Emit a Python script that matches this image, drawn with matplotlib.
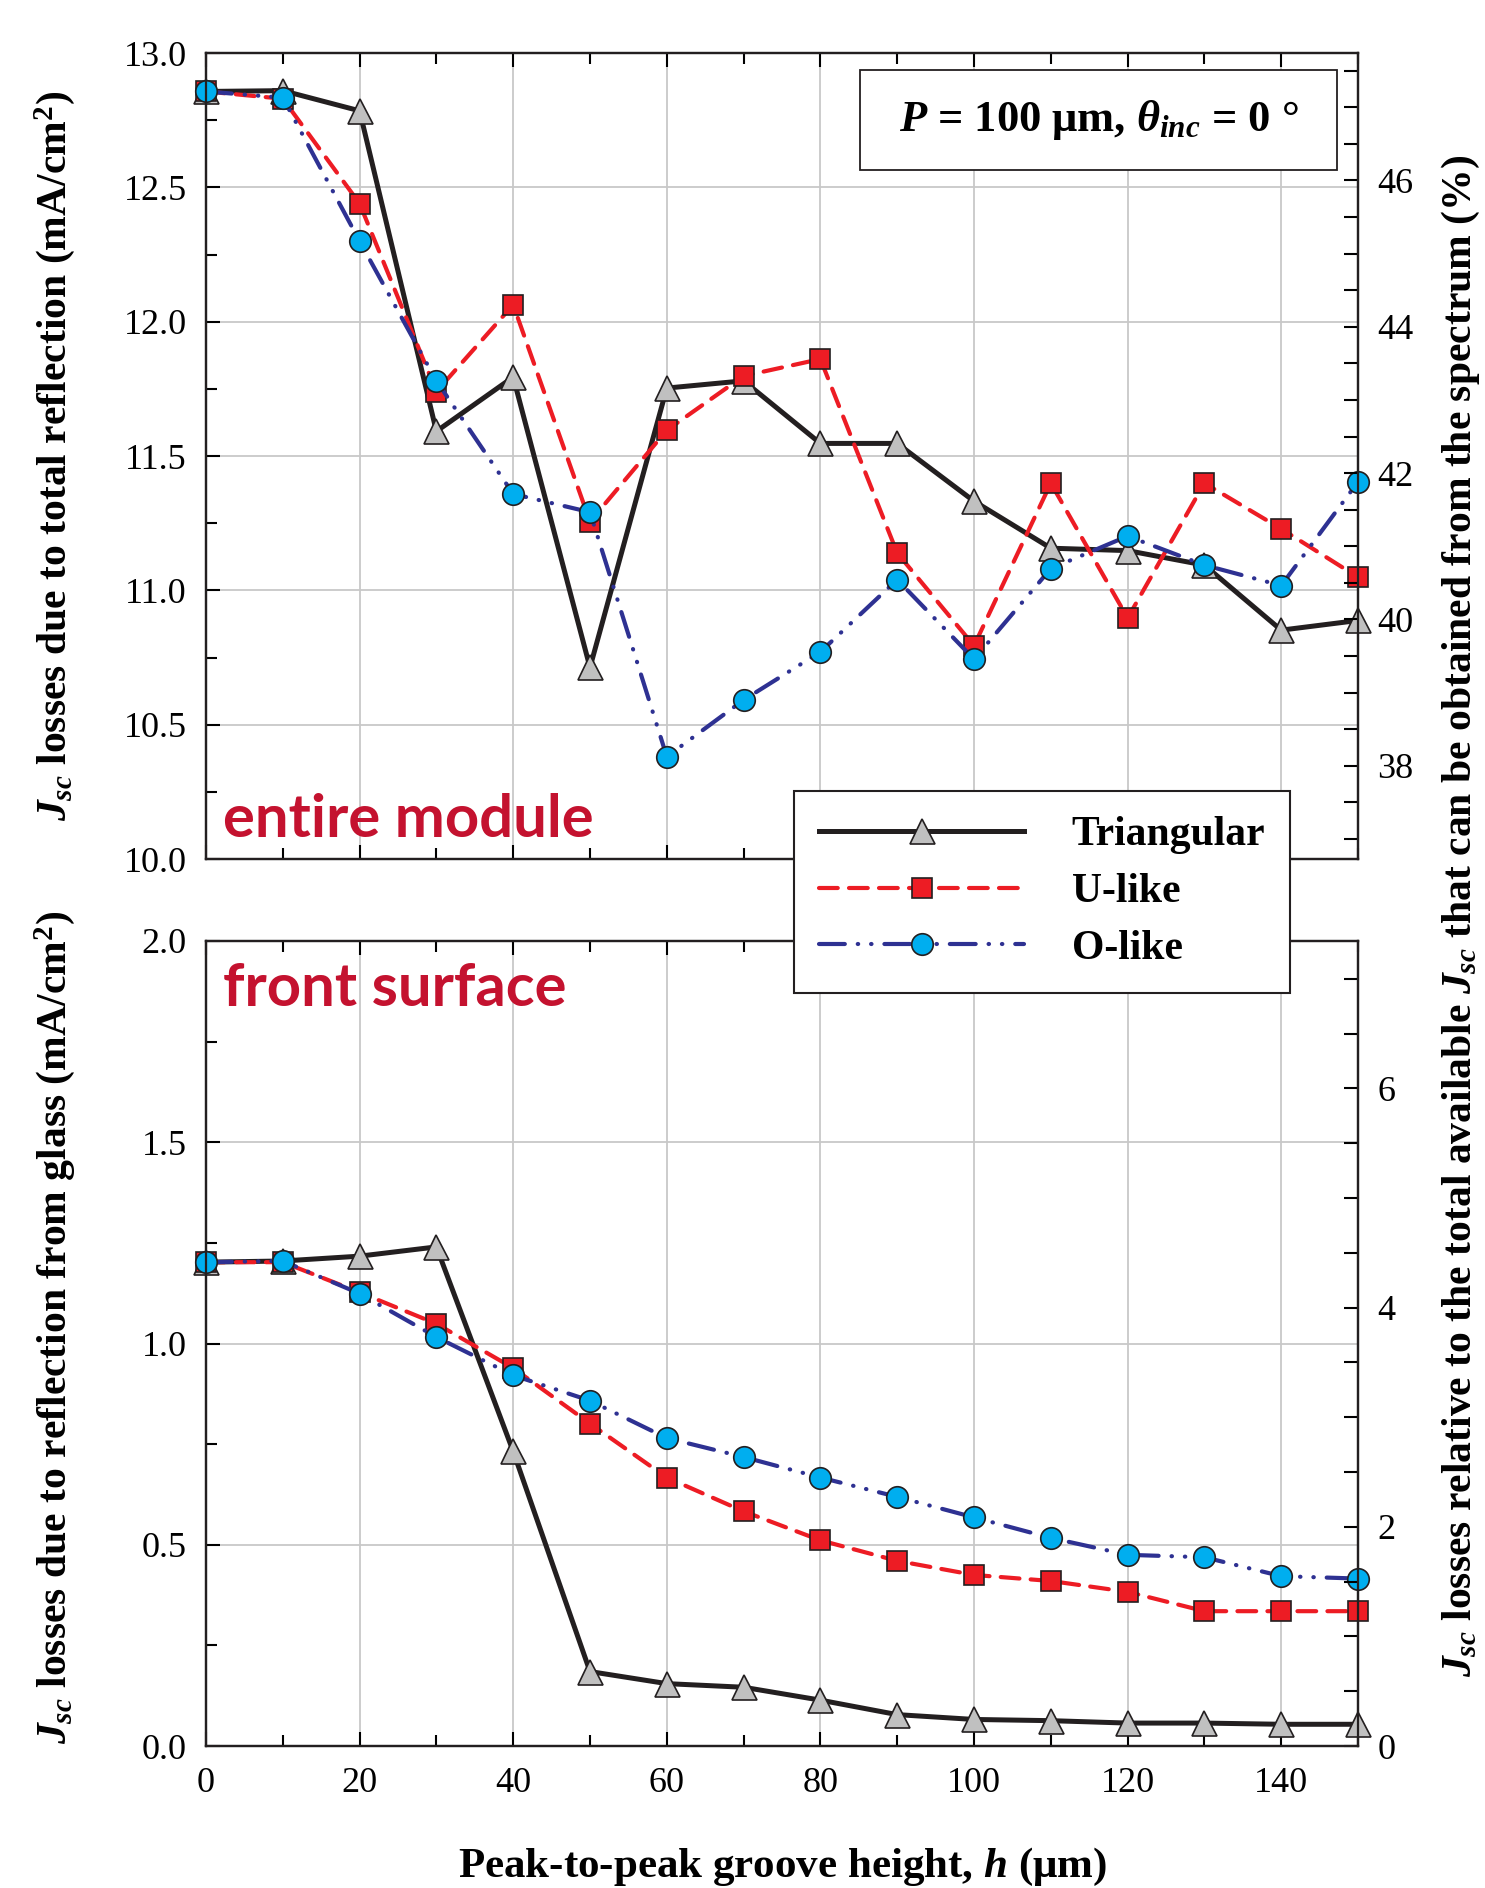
import matplotlib
matplotlib.use("Agg")
import matplotlib.pyplot as plt
from matplotlib.lines import Line2D
from matplotlib.patches import Rectangle
from matplotlib.ticker import MultipleLocator

plt.rcParams['font.family'] = ['Liberation Serif', 'DejaVu Serif']
plt.rcParams['mathtext.fontset'] = 'custom'
plt.rcParams['mathtext.rm'] = 'Liberation Serif:bold'
plt.rcParams['mathtext.it'] = 'Liberation Serif:italic:bold'
plt.rcParams['mathtext.bf'] = 'Liberation Serif:bold'

# groove height h (um)
h_um = [0, 10, 20, 30, 40, 50, 60, 70, 80, 90, 100, 110, 120, 130, 140, 150]

# Jsc losses, entire module (mA/cm2)
module_tri = [12.857, 12.86, 12.785, 11.592, 11.794, 10.713, 11.753, 11.78,
              11.547, 11.547, 11.332, 11.157, 11.148, 11.094, 10.852, 10.888]
module_u = [12.857, 12.83, 12.44, 11.74, 12.063, 11.256, 11.596, 11.798,
            11.861, 11.139, 10.794, 11.399, 10.897, 11.399, 11.229, 11.049]
module_o = [12.857, 12.834, 12.30, 11.78, 11.359, 11.291, 10.381, 10.592,
            10.771, 11.04, 10.744, 11.081, 11.202, 11.094, 11.018, 11.404]

# Jsc losses, front surface (mA/cm2)
front_tri = [1.202, 1.205, 1.217, 1.24, 0.732, 0.185, 0.155, 0.146,
             0.114, 0.078, 0.066, 0.063, 0.057, 0.057, 0.054, 0.054]
front_u = [1.202, 1.202, 1.127, 1.049, 0.939, 0.801, 0.667, 0.583,
           0.511, 0.460, 0.425, 0.410, 0.383, 0.335, 0.335, 0.335]
front_o = [1.202, 1.205, 1.124, 1.016, 0.921, 0.858, 0.765, 0.718,
           0.667, 0.619, 0.568, 0.517, 0.475, 0.469, 0.422, 0.416]

names = ['Triangular', 'U-like', 'O-like']
jsc_total = 27.23  # total available Jsc (mA/cm2), for the % axis

black = '#231F20'
red = '#ED1C24'
navy = '#2E3192'
cyan = '#00AEEF'
grey = '#C0C0C0'
crimson = '#C4122F'

styles = [
    dict(color=black, ls='-', lw=3.6, marker='^', ms=18, mfc=grey, mec=black, mew=1.2),
    dict(color=red, ls=(0, (4.5, 2.7)), lw=3.0, marker='s', ms=14.5, mfc=red, mec=black,
         mew=1.2, dash_capstyle='round'),
    dict(color=navy, ls=(0, (6.2, 3.1, 0.1, 3.1, 0.1, 3.1)), lw=3.0, marker='o', ms=15.5,
         mfc=cyan, mec=black, mew=1.2, dash_capstyle='round'),
]

fig = plt.figure(figsize=(14.85, 18.88), dpi=100)
ax_top = fig.add_axes([0.1387, 0.545, 0.7758, 0.4269])
ax_bot = fig.add_axes([0.1387, 0.0752, 0.7758, 0.4264])


def setup_panel(ax, ylim, rmajor):
    ax.set_xlim(0, 150)
    ax.set_ylim(*ylim)
    ax.xaxis.set_major_locator(MultipleLocator(20))
    ax.xaxis.set_minor_locator(MultipleLocator(10))
    ax.yaxis.set_major_locator(MultipleLocator(0.5))
    ax.yaxis.set_minor_locator(MultipleLocator(0.25))
    ax.yaxis.set_major_formatter(plt.FormatStrFormatter('%.1f'))
    ax.grid(True, which='major', color='#C8C8C8', lw=1.3)
    ax.set_axisbelow(True)
    ax2 = ax.twinx()
    ax2.set_ylim(ylim[0] * 100 / jsc_total, ylim[1] * 100 / jsc_total)
    ax2.yaxis.set_major_locator(MultipleLocator(rmajor))
    ax2.yaxis.set_minor_locator(MultipleLocator(0.5))
    ax.tick_params(which='both', direction='in', top=True, right=False, width=1.5,
                   labelsize=26)
    ax.tick_params(which='major', length=10)
    ax.tick_params(which='minor', length=8)
    ax.tick_params(axis='y', pad=14)
    ax.tick_params(axis='x', pad=15)
    ax2.tick_params(which='both', direction='in', width=1.5, length=10, labelsize=26, pad=14)
    for a in (ax, ax2):
        for s in a.spines.values():
            s.set_linewidth(1.6)
            s.set_color(black)
    return ax2


setup_panel(ax_top, (10.0, 13.0), 2)
setup_panel(ax_bot, (0.0, 2.0), 2)
ax_top.tick_params(labelbottom=False)

for data, st in zip([module_tri, module_u, module_o], styles):
    ax_top.plot(h_um, data, clip_on=False, zorder=3, **st)
for data, st in zip([front_tri, front_u, front_o], styles):
    ax_bot.plot(h_um, data, clip_on=False, zorder=3, **st)

ax_top.set_ylabel(r'$J_{sc}$ losses due to total reflection (mA/cm$^2$)',
                  fontsize=30, fontweight='bold')
ax_top.yaxis.set_label_coords(-0.112, 0.5)
ax_bot.set_ylabel(r'$J_{sc}$ losses due to reflection from glass (mA/cm$^2$)',
                  fontsize=30, fontweight='bold')
ax_bot.yaxis.set_label_coords(-0.112, 0.52)

fig.text(0.984, 0.515,
         r'$J_{sc}$ losses relative to the total available $J_{sc}$ that can be obtained from the spectrum (%)',
         rotation=90, ha='center', va='center', fontsize=30, fontweight='bold')
fig.text(0.527, 0.011, r'Peak-to-peak groove height, $h$ ($\mathrm{\mu}$m)',
         ha='center', va='center', fontsize=31, fontweight='bold')

ax_top.text(0.015, 0.027, 'entire module', transform=ax_top.transAxes, fontsize=43,
            fontweight='bold', family=['Lato', 'DejaVu Sans'], color=crimson,
            ha='left', va='baseline')
ax_bot.text(0.015, 0.919, 'front surface', transform=ax_bot.transAxes, fontsize=43,
            fontweight='bold', family=['Lato', 'DejaVu Sans'], color=crimson,
            ha='left', va='baseline')

ax_top.add_patch(Rectangle((0.568, 0.855), 0.414, 0.124, transform=ax_top.transAxes,
                           fc='white', ec=black, lw=1.3, zorder=5))
ax_top.text(0.775, 0.917, r'$P$ = 100 μm, $\theta_{inc}$ = 0 °', transform=ax_top.transAxes,
            fontsize=32, fontweight='bold', ha='center', va='center', zorder=6)

handles = [Line2D([], [], **st) for st in styles]
leg = fig.legend(handles, names, loc='upper left', bbox_to_anchor=(0.535, 0.581),
                 frameon=True, fancybox=False, edgecolor=black, framealpha=1,
                 prop={'size': 30, 'weight': 'bold'}, handlelength=4.9,
                 handletextpad=1.15, borderpad=0.6, labelspacing=0.45, numpoints=1,
                 borderaxespad=0)
leg.get_frame().set_linewidth(1.5)

fig.savefig('out.png', dpi=100)
